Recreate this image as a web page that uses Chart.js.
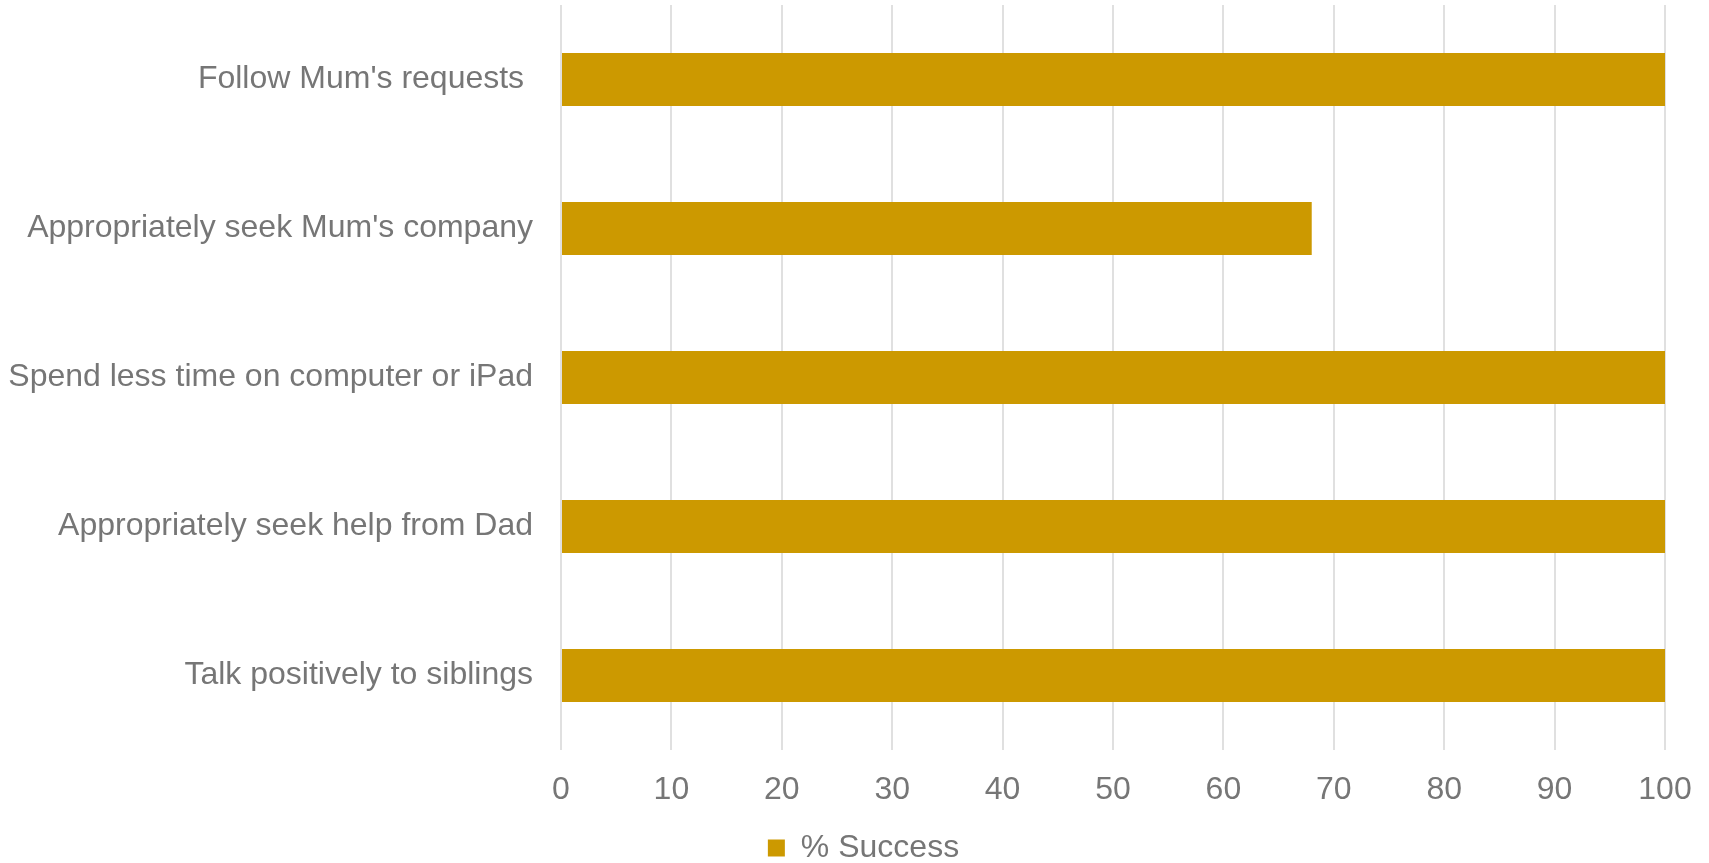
<!DOCTYPE html>
<html>
<head>
<meta charset="utf-8">
<script src="https://cdn.jsdelivr.net/npm/chart.js@4"></script>
<style>
  body { margin: 0; background: #fff; }
  #wrap { width: 1709px; height: 863px; position: relative; }
</style>
</head>
<body>
<div id="wrap"><canvas id="successChart"></canvas></div>
<script>
const goals = [
    "Follow Mum's requests ",
    "Appropriately seek Mum's company",
    "Spend less time on computer or iPad",
    "Appropriately seek help from Dad",
    "Talk positively to siblings"
]
const successPct = [100, 68, 100, 100, 100]
const xTicks = [0, 10, 20, 30, 40, 50, 60, 70, 80, 90, 100]

const textGrey = '#767676'
const fontFace = "'Liberation Sans', Arial, sans-serif"

// nudge the legend a little right and down from where the layout puts it
const legendNudge = {
    id: 'legendNudge',
    afterLayout(chart) {
        const lg = chart.legend
        lg.left += 31
        lg.right += 31
        lg.top += 11
        lg.bottom += 11
    }
}

// gaps between axis and labels come from invisible tick marks,
// ticks.padding would also pad the chart area top/right
var successChart = new Chart(document.getElementById('successChart'), {
    type: 'bar',
    data: {
        labels: goals,
        datasets: [
            {
                label: '% Success',
                backgroundColor: '#cc9900',
                data: successPct,
                barPercentage: 0.356,
                categoryPercentage: 1
            }
        ]
    },
    options: {
        indexAxis: 'y',
        responsive: true,
        maintainAspectRatio: false,
        animation: false,
        layout: { padding: { top: 5, right: 44, bottom: 0, left: 0 } },
        scales: {
            x: {
                min: 0,
                max: 100,
                afterBuildTicks: (scale) => { scale.ticks = xTicks.map(v => ({ value: v })) },
                afterFit: (scale) => { scale.height = 71 },
                grid: { color: '#e0e0e0', lineWidth: 2, drawTicks: true, tickLength: 18, tickColor: 'rgba(0,0,0,0)' },
                border: { display: false },
                ticks: { color: textGrey, font: { family: fontFace, size: 32 }, padding: 3 }
            },
            y: {
                afterFit: (scale) => {
                    scale.width = 561
                    scale.paddingTop = 0
                    scale.paddingBottom = 0
                },
                grid: { color: 'rgba(0,0,0,0)', drawTicks: true, tickLength: 25, tickColor: 'rgba(0,0,0,0)' },
                border: { display: false },
                ticks: { color: textGrey, font: { family: fontFace, size: 32 }, padding: 3 }
            }
        },
        plugins: {
            legend: {
                position: 'bottom',
                labels: {
                    color: textGrey,
                    font: { family: fontFace, size: 32 },
                    boxWidth: 17,
                    boxHeight: 17,
                    padding: 0
                }
            },
            tooltip: { enabled: false }
        }
    },
    plugins: [legendNudge]
});
</script>
</body>
</html>
